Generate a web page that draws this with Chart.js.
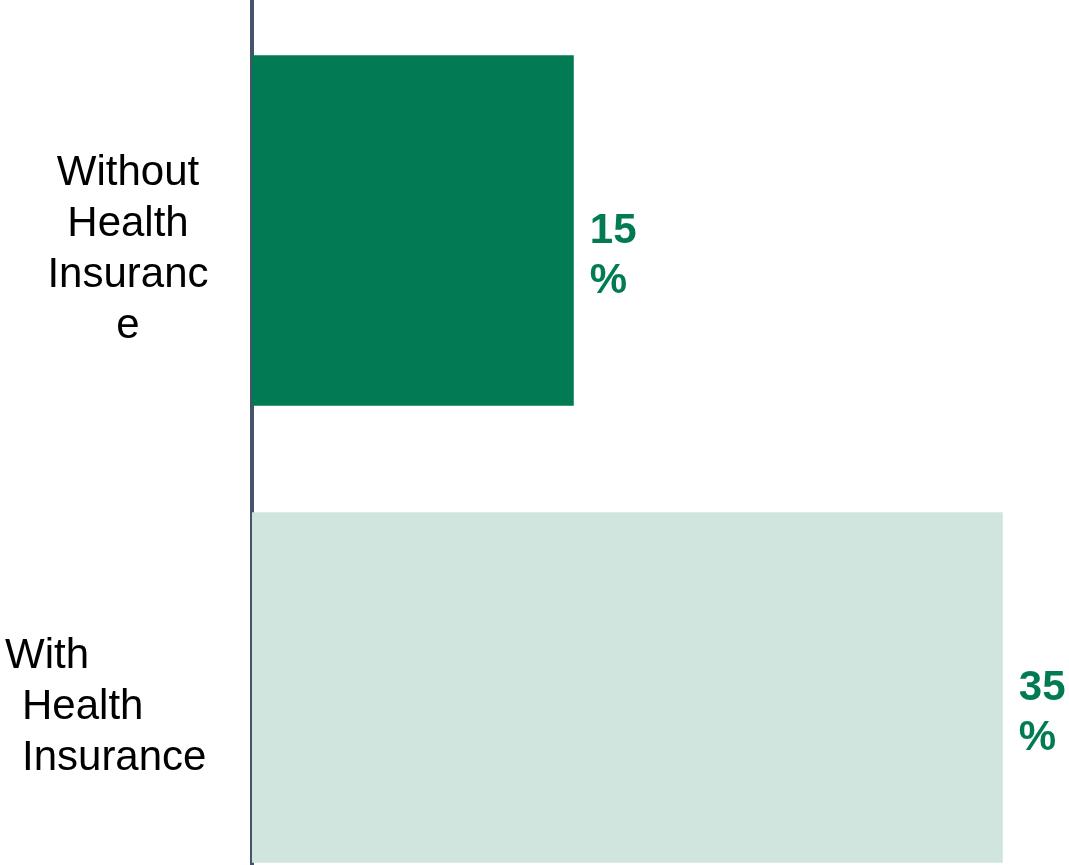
<!DOCTYPE html>
<html>
<head>
<meta charset="utf-8">
<script src="https://cdn.jsdelivr.net/npm/chart.js@4.4.1/dist/chart.umd.min.js"></script>
<style>
  html, body { margin: 0; padding: 0; background: #fff; overflow: hidden; }
  .wrap { width: 1069px; height: 916px; position: relative; }
</style>
</head>
<body>
<div class="wrap"><canvas id="insuranceChart"></canvas></div>
<script>
// Share of people, with and without health insurance
const categories = [
  ['Without', 'Health', 'Insuranc', 'e'],
  ['With', 'Health', 'Insurance']
];
const shares = [15, 35];
const barColors = ['#027b55', '#cfe5dd'];

const green = '#027b55';

// Category names drawn beside the axis, one block per bar
const categoryLabels = {
  id: 'categoryLabels',
  afterDraw(chart) {
    const ctx = chart.ctx;
    const yScale = chart.scales.y;
    ctx.save();
    ctx.fillStyle = '#000';
    ctx.font = '42px "Liberation Sans", Arial, sans-serif';
    ctx.textBaseline = 'alphabetic';
    categories.forEach((lines, i) => {
      const lineH = 51;
      const mid = yScale.getPixelForValue(i) + 16;
      const first = mid - (lines.length - 1) * lineH / 2 + 15;
      lines.forEach((line, j) => {
        const y = first + j * lineH;
        if (i === 0) {
          ctx.textAlign = 'center';
          ctx.fillText(line, 128, y);
        } else {
          ctx.textAlign = 'left';
          ctx.fillText(line, j === 0 ? 5 : 22, y);
        }
      });
    });
    ctx.restore();
  }
};

// "15 %" style value labels to the right of each bar
const valueLabels = {
  id: 'valueLabels',
  afterDatasetsDraw(chart) {
    const ctx = chart.ctx;
    const meta = chart.getDatasetMeta(0);
    ctx.save();
    ctx.fillStyle = green;
    ctx.font = 'bold 42px "Liberation Sans", Arial, sans-serif';
    ctx.textAlign = 'left';
    ctx.textBaseline = 'alphabetic';
    meta.data.forEach((bar, i) => {
      const x = bar.x + 16;
      ctx.fillText(String(shares[i]), x, bar.y + 12);
      ctx.fillText('%', x, bar.y + 62);
    });
    ctx.restore();
  }
};

new Chart(document.getElementById('insuranceChart'), {
  type: 'bar',
  data: {
    labels: categories.map(l => l.join(' ')),
    datasets: [{
      data: shares,
      backgroundColor: barColors,
      borderWidth: 0,
      categoryPercentage: 1,
      barPercentage: 0.7675
    }]
  },
  options: {
    indexAxis: 'y',
    responsive: true,
    maintainAspectRatio: false,
    animation: false,
    layout: { padding: { top: 2, right: 4, bottom: 0, left: 0 } },
    plugins: {
      legend: { display: false },
      tooltip: { enabled: false }
    },
    scales: {
      x: {
        display: false,
        min: 0,
        max: 37.9
      },
      y: {
        grid: { display: false },
        ticks: { display: false },
        border: { display: true, color: '#44546a', width: 4 },
        afterFit(scale) { scale.width = 252; }
      }
    }
  },
  plugins: [categoryLabels, valueLabels]
});
</script>
</body>
</html>
